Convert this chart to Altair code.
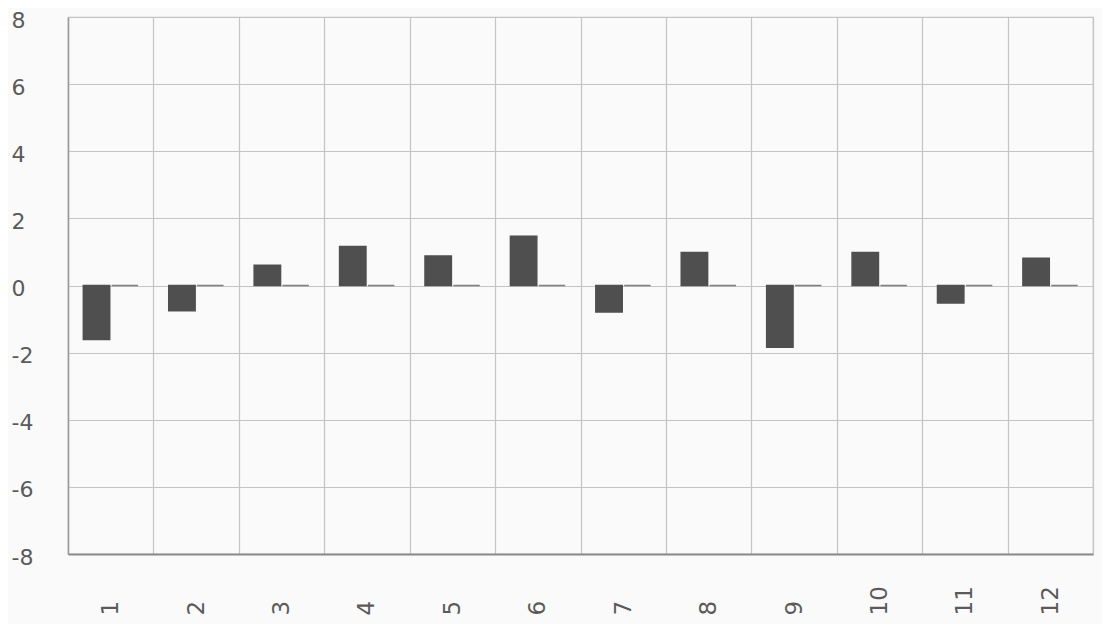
import altair as alt
import pandas as pd

categories = ["1", "2", "3", "4", "5", "6", "7", "8", "9", "10", "11", "12"]
series_a = [-1.61, -0.75, 0.60, 1.16, 0.88, 1.47, -0.79, 0.98, -1.84, 0.98, -0.52, 0.81]
series_b = [0, 0, 0, 0, 0, 0, 0, 0, 0, 0, 0, 0]
y_ticks = [-8, -6, -4, -2, 0, 2, 4, 6, 8]

rows = []
for c, a, b in zip(categories, series_a, series_b):
    rows.append({"cat": c, "series": "A", "value": a})
    rows.append({"cat": c, "series": "B", "value": b})
df = pd.DataFrame(rows)

FONT = "DejaVu Sans"
LABEL = "#5a5a5a"

chart = alt.Chart(df).mark_bar(strokeWidth=1.5).encode(
    x=alt.X("cat:N", sort=categories,
            scale=alt.Scale(paddingInner=0, paddingOuter=0),
            axis=alt.Axis(title=None, labelAngle=270, labelAlign="left", labelBaseline="middle",
                          labelPadding=61, ticks=False, tickBand="extent", grid=True,
                          gridColor="#c4c4c4", gridWidth=1.2, domainColor="#8a8a8a", domainWidth=2,
                          labelFont=FONT, labelFontSize=23, labelColor=LABEL)),
    xOffset=alt.XOffset("series:N", scale=alt.Scale(paddingInner=0.07, paddingOuter=0.54)),
    y=alt.Y("value:Q", scale=alt.Scale(domain=[-8, 8], nice=False, zero=False),
            axis=alt.Axis(title=None, values=y_ticks, labelAlign="left", labelPadding=57, ticks=False,
                          labelExpr="toString(datum.value)", labelOffset=3,
                          grid=True, gridColor="#c4c4c4", gridWidth=1.2, domainColor="#9a9a9a",
                          domainWidth=1.5, labelFont=FONT, labelFontSize=22, labelColor=LABEL)),
    color=alt.Color("series:N", scale=alt.Scale(domain=["A", "B"], range=["#4f4f4f", "#808080"]), legend=None),
    stroke=alt.Stroke("series:N", scale=alt.Scale(domain=["A", "B"], range=["#4f4f4f", "#808080"]), legend=None),
).properties(
    width=1025, height=537,
    autosize=alt.AutoSizeParams(type="none"),
    padding={"left": 60, "top": 9, "right": 9, "bottom": 70},
).configure(background="#fafafa").configure_view(stroke="#c4c4c4", strokeWidth=1.2, fill="#fafafa")

chart.save("out.html", embed_options={"renderer": "svg", "actions": False})
